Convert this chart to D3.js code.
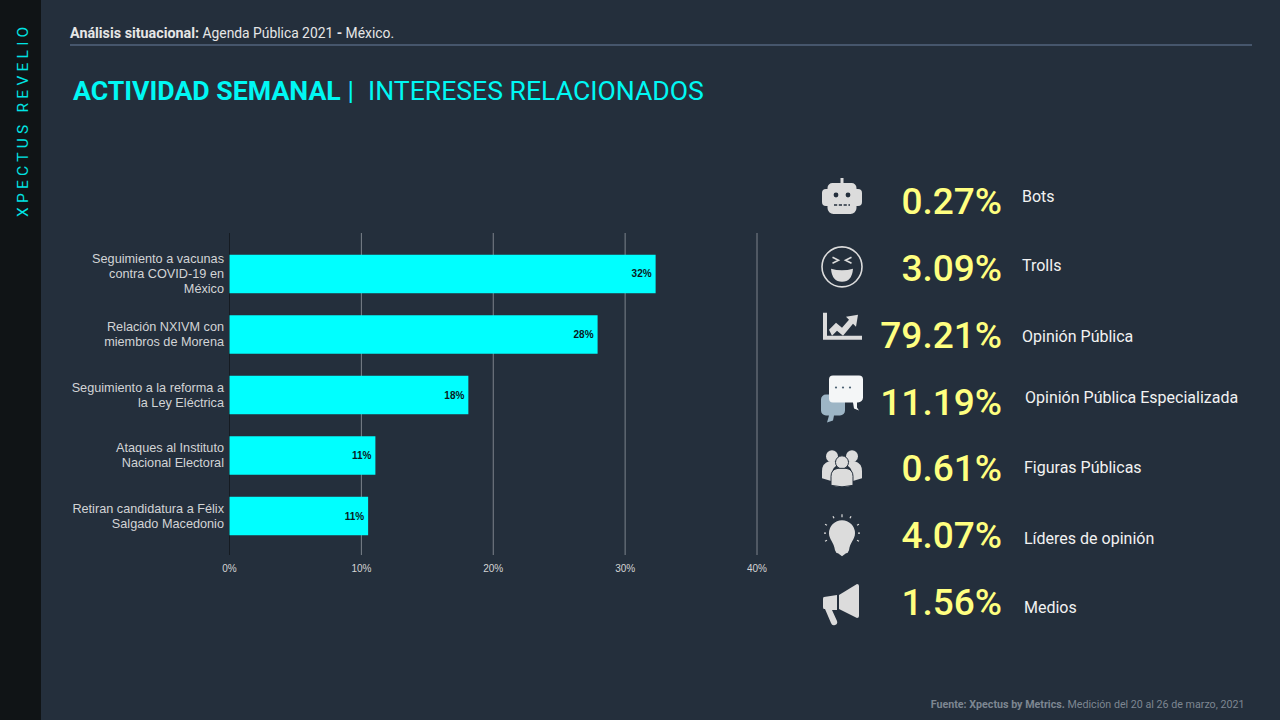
<!DOCTYPE html>
<html>
<head>
<meta charset="utf-8">
<script src="https://cdn.jsdelivr.net/npm/d3@7"></script>
<style>
  html, body { margin: 0; padding: 0; background: #242f3c; }
  svg { display: block; }
  text { font-family: Roboto, sans-serif; }
  .chart text { font-family: "Liberation Sans", Arial, sans-serif; }
</style>
</head>
<body>
<svg id="slide" width="1280" height="720"></svg>
<script>
'use strict';

var topics = [
  ['Seguimiento a vacunas', 'contra COVID-19 en', 'México'],
  ['Relación NXIVM con', 'miembros de Morena'],
  ['Seguimiento a la reforma a', 'la Ley Eléctrica'],
  ['Ataques al Instituto', 'Nacional Electoral'],
  ['Retiran candidatura a Félix', 'Salgado Macedonio']
];
var topicValues = [32.35, 27.95, 18.15, 11.1, 10.55];
var topicLabels = ['32%', '28%', '18%', '11%', '11%'];
var xTicks = [0, 10, 20, 30, 40];

var kpiNames = ['Bots', 'Trolls', 'Opinión Pública', 'Opinión Pública Especializada',
  'Figuras Públicas', 'Líderes de opinión', 'Medios'];
var kpiValues = ['0.27%', '3.09%', '79.21%', '11.19%', '0.61%', '4.07%', '1.56%'];
var kpiIcons = ['bot', 'troll', 'trend', 'chat', 'people', 'bulb', 'horn'];

// small per row nudges, the source slide is hand placed
var kpiNameDy = [-18, -15, -11, -17, -14, -10, -8];
var kpiNameDx = [0, 0, 0, 3, 2, 2, 2];
var kpiIconDy = [-18, -14, -20, -18, -14, -15, -13];

var CYAN = '#00ffff';
var ICON = '#dcdcdc';

var svg = d3.select('#slide');

svg.append('rect').attr('width', 1280).attr('height', 720).attr('fill', '#242f3c');
svg.append('rect').attr('width', 41).attr('height', 720).attr('fill', '#101416');

svg.append('text')
  .attr('transform', 'translate(28,217) rotate(-90)')
  .attr('fill', '#00e4e4')
  .style('font-size', '15.5px')
  .style('letter-spacing', '4.25px')
  .text('XPECTUS REVELIO');

var header = svg.append('text').attr('x', 70).attr('y', 38)
  .attr('fill', '#e6e6e6').style('font-size', '13.85px');
header.append('tspan').style('font-weight', 700).style('font-size', '14.3px').text('Análisis situacional:');
header.append('tspan').text(' Agenda Pública 2021 ');
header.append('tspan').style('font-weight', 700).text('-');
header.append('tspan').text(' México.');

svg.append('rect').attr('x', 70).attr('y', 44).attr('width', 1182).attr('height', 2).attr('fill', '#46566c');

svg.append('text').attr('x', 73).attr('y', 100).attr('fill', '#00f8f4')
  .style('font-size', '26.7px').style('font-weight', 700).text('ACTIVIDAD SEMANAL');
svg.append('text').attr('x', 347.5).attr('y', 100).attr('fill', '#00f8f4')
  .style('font-size', '26.6px').text('|');
svg.append('text').attr('x', 368).attr('y', 100).attr('fill', '#00f8f4')
  .style('font-size', '26.6px').text('INTERESES RELACIONADOS');

var footer = svg.append('text').attr('x', 1244.5).attr('y', 708).attr('text-anchor', 'end')
  .attr('fill', '#7d8691').style('font-size', '10.7px');
footer.append('tspan').style('font-weight', 700).text('Fuente: Xpectus by Metrics.');
footer.append('tspan').text(' Medición del 20 al 26 de marzo, 2021');

// bars
var x = d3.scaleLinear().domain([0, 40]).range([229, 756.5]);
var y = d3.scaleBand().domain(d3.range(topics.length)).range([234, 556])
  .paddingInner(0.364).paddingOuter(0.343);

var chart = svg.append('g').attr('class', 'chart');

var axis = chart.append('g')
  .attr('transform', 'translate(0,555)')
  .call(d3.axisBottom(x).tickValues(xTicks).tickSize(322).tickPadding(11)
    .tickFormat(function (d) { return d + '%'; }));
axis.select('.domain').remove();
axis.selectAll('line')
  .attr('y2', -322)
  .attr('stroke', function (d) { return d === 0 ? '#151b22' : '#7c838b'; });
axis.selectAll('text')
  .attr('y', 17)
  .attr('dy', 0)
  .attr('fill', '#d4d4d4')
  .style('font-size', '10px');

chart.selectAll('.bar')
  .data(topicValues)
  .enter()
  .append('rect')
  .classed('bar', true)
  .attr('x', x(0) + 0.5)
  .attr('y', function (d, i) { return y(i); })
  .attr('width', function (d) { return x(d) - x(0) - 0.5; })
  .attr('height', y.bandwidth())
  .attr('fill', CYAN);

chart.selectAll('.bar-label')
  .data(topicValues)
  .enter()
  .append('text')
  .classed('bar-label', true)
  .attr('x', function (d) { return x(d) - 4; })
  .attr('y', function (d, i) { return y(i) + y.bandwidth() / 2 + 3.5; })
  .attr('text-anchor', 'end')
  .attr('fill', '#0b1a1e')
  .style('font-size', '10px')
  .style('font-weight', 700)
  .text(function (d, i) { return topicLabels[i]; });

chart.selectAll('.topic')
  .data(topics)
  .enter()
  .append('text')
  .classed('topic', true)
  .attr('text-anchor', 'end')
  .attr('fill', '#d2d4d6')
  .style('font-size', '12.7px')
  .attr('y', function (d, i) {
    return y(i) + y.bandwidth() / 2 + 4 - (d.length - 1) * 7.5;
  })
  .each(function (d) {
    d3.select(this).selectAll('tspan')
      .data(d)
      .enter()
      .append('tspan')
      .attr('x', 224)
      .attr('dy', function (l, j) { return j ? 15 : 0; })
      .text(function (l) { return l; });
  });

// right hand figures
var rowY = d3.scalePoint().domain(d3.range(kpiValues.length)).range([214, 615]);

var rows = svg.selectAll('.kpi')
  .data(kpiValues)
  .enter()
  .append('g')
  .classed('kpi', true)
  .attr('transform', function (d, i) { return 'translate(0,' + rowY(i) + ')'; });

rows.append('text')
  .attr('x', 1002)
  .attr('text-anchor', 'end')
  .attr('fill', '#ffff80')
  .style('font-size', '37px')
  .style('font-weight', 500)
  .text(function (d) { return d; });

rows.append('text')
  .attr('x', function (d, i) { return 1022 + kpiNameDx[i]; })
  .attr('y', function (d, i) { return kpiNameDy[i] + 5.5; })
  .attr('fill', '#f2f2f2')
  .style('font-size', '16px')
  .text(function (d, i) { return kpiNames[i]; });

rows.append('g')
  .attr('transform', function (d, i) { return 'translate(842,' + kpiIconDy[i] + ')'; })
  .each(function (d, i) { drawIcon(d3.select(this), kpiIcons[i]); });

function drawIcon (g, name) {
  if (name === 'bot') {
    g.append('path').attr('fill', ICON)
      .attr('d', 'M-1.5,-18h3v5h8a5,5 0 0 1 5,5v1h1.5a4,4 0 0 1 4,4v9a4,4 0 0 1 -4,4h-1.5v2a6,6 0 0 1 -6,6h-17a6,6 0 0 1 -6,-6v-2h-1.5a4,4 0 0 1 -4,-4v-9a4,4 0 0 1 4,-4h1.5v-1a5,5 0 0 1 5,-5h8z');
    g.selectAll('.eye').data([-6, 6]).enter().append('circle')
      .attr('cx', function (d) { return d; }).attr('cy', -1).attr('r', 2.4).attr('fill', '#242f3c');
    g.append('line').attr('x1', -8).attr('x2', 8).attr('y1', 9).attr('y2', 9)
      .attr('stroke', '#242f3c').attr('stroke-width', 1.5).attr('stroke-dasharray', '3.2 1.6');
  } else if (name === 'troll') {
    g.append('circle').attr('r', 20).attr('fill', 'none').attr('stroke', ICON).attr('stroke-width', 1.6);
    g.append('path').attr('fill', 'none').attr('stroke', ICON).attr('stroke-width', 1.6)
      .attr('d', 'M-9.5,-9.5l6,3l-6,3M9.5,-9.5l-6,3l6,3');
    g.append('path').attr('fill', ICON)
      .attr('d', 'M-11,2q11,3 22,0q-1,13 -11,13t-11,-13z');
  } else if (name === 'trend') {
    g.append('path').attr('fill', ICON).attr('d', 'M-19,-15h4v23h35v4h-39z');
    g.append('path').attr('fill', ICON)
      .attr('d', 'M-13,2l7,-7l6,5l7,-8l-3,-3l12,-2l-2,12l-3,-3l-10,12l-6,-5l-5,5z');
  } else if (name === 'chat') {
    g.append('path').attr('fill', '#9db5c5')
      .attr('d', 'M-16,-2h14a5,5 0 0 1 5,5v11a5,5 0 0 1 -5,5h-6l-1,5l-6,2l2,-7h-3a5,5 0 0 1 -5,-5v-11a5,5 0 0 1 5,-5z');
    g.append('path').attr('fill', '#f4f6f7')
      .attr('d', 'M-9,-21h26a4,4 0 0 1 4,4v18a5,5 0 0 1 -5,5h-1l0,5l2,3l-5,-2l-1,-6h-20a4,4 0 0 1 -4,-4v-19a4,4 0 0 1 4,-4z');
    g.selectAll('.dot').data([-6, 1, 8]).enter().append('circle')
      .attr('cx', function (d) { return d; }).attr('cy', -9).attr('r', 1.1).attr('fill', '#4d6274');
  } else if (name === 'people') {
    [[-10, -11, 6], [10, -11, 6]].forEach(function (p) {
      g.append('circle').attr('cx', p[0]).attr('cy', p[1]).attr('r', p[2]).attr('fill', ICON);
    });
    g.append('path').attr('fill', ICON)
      .attr('d', 'M-20,11v-7q0,-8 7,-10h6l4,3q-7,3 -7,9v8zM20,11v-7q0,-8 -7,-10h-6l-4,3q7,3 7,9v8z');
    g.append('circle').attr('cy', -5).attr('r', 6.5).attr('fill', ICON)
      .attr('stroke', '#242f3c').attr('stroke-width', 1);
    g.append('path').attr('fill', ICON).attr('stroke', '#242f3c').attr('stroke-width', 1)
      .attr('d', 'M-11,18v-9q0,-7 7,-8h8q7,1 7,8v9q-11,3 -22,0z');
  } else if (name === 'bulb') {
    g.append('path').attr('fill', ICON)
      .attr('d', 'M0,-13a13,13 0 0 1 13,13c0,6 -5,9 -6,17q-1,3 -3,3l-4,3l-4,-3q-2,0 -3,-3c-1,-8 -6,-11 -6,-17a13,13 0 0 1 13,-13z');
    g.selectAll('.ray')
      .data([[0, -19, 0, -16], [-9, -17, -8, -15], [9, -17, 8, -15], [-17, -9, -15, -8], [17, -9, 15, -8],
        [-18, 0, -16, 0], [18, 0, 16, 0], [-17, 8, -15, 7], [17, 8, 15, 7]])
      .enter().append('line')
      .attr('x1', function (d) { return d[0]; }).attr('y1', function (d) { return d[1]; })
      .attr('x2', function (d) { return d[2]; }).attr('y2', function (d) { return d[3]; })
      .attr('stroke', ICON).attr('stroke-width', 1.2);
  } else if (name === 'horn') {
    g.append('path').attr('fill', ICON).attr('d', 'M-3,-7l18,-11q2,0 2,2v30q0,2 -2,2l-18,-9z');
    g.append('path').attr('fill', ICON)
      .attr('d', 'M-18,-5l13,-2v15h-5l5,11q1,3 -2,4t-4,-2l-6,-14l-1,0q-1,0 -1,-2v-8q0,-2 1,-2z');
  }
}
</script>
</body>
</html>
